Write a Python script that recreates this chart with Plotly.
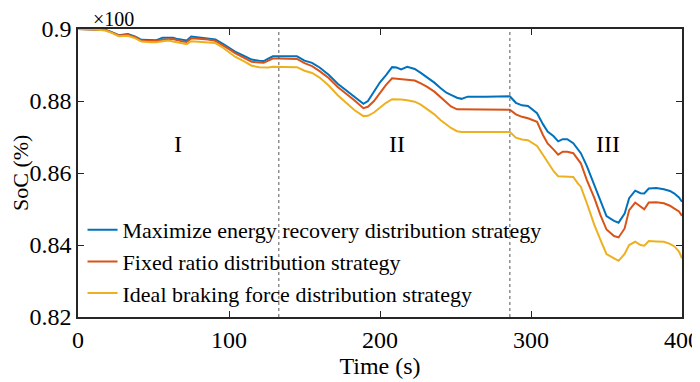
import plotly.graph_objects as go

time_s = [0, 10, 18, 22, 27, 33, 38, 42, 48, 52, 56, 60, 63, 66, 69, 72, 75, 80, 86, 91,
          96, 100, 104, 110, 115, 120, 123, 126, 129, 133, 140, 145, 150, 155, 160, 166,
          172, 178, 183, 189, 192, 196, 200, 204, 208, 211, 214, 218, 223, 227, 231, 236,
          240, 244, 247, 251, 254, 258, 270, 286, 290, 294, 298, 304, 308, 311, 315, 318,
          321, 324, 328, 331, 333, 337, 342, 346, 350, 355, 358, 362, 365, 369, 372.5,
          375, 378, 383, 388, 392, 395, 398, 400]

soc_max_recovery = [0.9, 0.8999, 0.8998, 0.8992, 0.8983, 0.8986, 0.8979, 0.897, 0.8969, 0.8969,
                    0.8976, 0.8976, 0.8976, 0.8972, 0.8969, 0.8968, 0.8979, 0.8977, 0.8975, 0.8971,
                    0.8959, 0.8948, 0.8937, 0.8925, 0.8915, 0.8912, 0.8911, 0.8918, 0.8924, 0.8924,
                    0.8925, 0.8924, 0.8912, 0.8906, 0.8893, 0.8873, 0.8848, 0.8829, 0.8811, 0.8792,
                    0.8800, 0.8828, 0.8852, 0.8872, 0.8894, 0.8893, 0.8888, 0.8895, 0.8889, 0.8878,
                    0.8866, 0.8851, 0.8836, 0.8823, 0.8817, 0.8809, 0.8806, 0.8812, 0.8812, 0.8813,
                    0.8795, 0.8788, 0.8786, 0.8766, 0.8735, 0.8715, 0.8702, 0.8688, 0.8694, 0.8694,
                    0.8683, 0.8665, 0.8655, 0.8619, 0.8567, 0.8525, 0.8480, 0.8467, 0.8462, 0.8487,
                    0.8530, 0.8551, 0.8544, 0.8543, 0.8557, 0.8558, 0.8555, 0.8550, 0.8543, 0.8532,
                    0.8520]

soc_fixed_ratio = [0.9, 0.8999, 0.8997, 0.8991, 0.8982, 0.8984, 0.8977, 0.8968, 0.8967, 0.8967,
                   0.8970, 0.8972, 0.8972, 0.8969, 0.8965, 0.8964, 0.8974, 0.8973, 0.8971, 0.8967,
                   0.8955, 0.8944, 0.8933, 0.8920, 0.8909, 0.8907, 0.8906, 0.8912, 0.8918, 0.8918,
                   0.8918, 0.8917, 0.8905, 0.8897, 0.8883, 0.8864, 0.8839, 0.8820, 0.8802, 0.8780,
                   0.8784, 0.8800, 0.8824, 0.8845, 0.8863, 0.8862, 0.8860, 0.8859, 0.8857, 0.8849,
                   0.8840, 0.8826, 0.8812, 0.8796, 0.8785, 0.8777, 0.8777, 0.8777, 0.8777, 0.8776,
                   0.8763, 0.8756, 0.8752, 0.8742, 0.8705, 0.8682, 0.8665, 0.8651, 0.8659, 0.8659,
                   0.8655, 0.8637, 0.8627, 0.8580, 0.8530, 0.8483, 0.8443, 0.8425, 0.8421, 0.8446,
                   0.8497, 0.8518, 0.8506, 0.8499, 0.8518, 0.8519, 0.8516, 0.8509, 0.8501, 0.8493,
                   0.8481]

soc_ideal = [0.9, 0.8999, 0.8996, 0.8990, 0.8980, 0.8981, 0.8974, 0.8965, 0.8963, 0.8963,
             0.8966, 0.8968, 0.8965, 0.8962, 0.8960, 0.8958, 0.8966, 0.8965, 0.8962, 0.8961,
             0.8948, 0.8936, 0.8923, 0.8910, 0.8898, 0.8894, 0.8893, 0.8893, 0.8895, 0.8895,
             0.8895, 0.8894, 0.8884, 0.8878, 0.8865, 0.8843, 0.8816, 0.8794, 0.8775, 0.8758,
             0.8759, 0.8768, 0.8782, 0.8795, 0.8805, 0.8805, 0.8804, 0.8802, 0.8798, 0.8790,
             0.8779, 0.8763, 0.8747, 0.8733, 0.8725, 0.8716, 0.8714, 0.8714, 0.8714, 0.8714,
             0.8698, 0.8693, 0.8691, 0.8675, 0.8650, 0.8631, 0.8605, 0.8591, 0.8590, 0.8591,
             0.8589, 0.8571, 0.8562, 0.8516, 0.8455, 0.8414, 0.8375, 0.8363, 0.8356, 0.8375,
             0.8400, 0.8409, 0.8400, 0.8398, 0.8411, 0.8410, 0.8409, 0.8403, 0.8396, 0.8382,
             0.8363]

series_names = ["Maximize energy recovery distribution strategy",
                "Fixed ratio distribution strategy",
                "Ideal braking force distribution strategy"]
series_colors = ["#0072BD", "#D95319", "#EDB120"]

stage_boundaries = [133, 286]
stage_labels = ["I", "II", "III"]
stage_label_x = [66, 211, 351]
stage_label_y = 0.868

x_ticks = [0, 100, 200, 300, 400]
y_ticks = [0.82, 0.84, 0.86, 0.88, 0.9]
y_tick_text = ["0.82", "0.84", "0.86", "0.88", "0.9"]

FONT = "Liberation Serif"
AX = "#262626"

fig = go.Figure()
for name, color, ys in zip(series_names, series_colors,
                           [soc_max_recovery, soc_fixed_ratio, soc_ideal]):
    fig.add_trace(go.Scatter(x=time_s, y=ys, mode="lines", name=name,
                             line=dict(color=color, width=2)))

for xb in stage_boundaries:
    fig.add_shape(type="line", xref="x", yref="paper", x0=xb, x1=xb, y0=0, y1=1,
                  line=dict(color="#555555", width=1, dash="dot"))

for lab, lx in zip(stage_labels, stage_label_x):
    fig.add_annotation(x=lx, y=stage_label_y, text=lab, showarrow=False,
                       font=dict(family=FONT, size=24, color="black"))

fig.add_annotation(xref="paper", yref="paper", x=0.023, y=1.0, yanchor="middle",
                   xanchor="left", text="×100", showarrow=False, yshift=10,
                   borderpad=0, font=dict(family=FONT, size=20, color="black"))

# y-axis title
fig.add_annotation(xref="paper", yref="paper", x=-0.096, y=0.5, xanchor="center",
                   yanchor="middle", text="SoC (%)", textangle=-90, showarrow=False,
                   borderpad=0, font=dict(family=FONT, size=22, color="black"))

axis_common = dict(showline=True, linecolor=AX, linewidth=1.5, mirror="ticks",
                   ticks="inside", ticklen=6, tickcolor=AX, tickwidth=1.2,
                   showgrid=False, zeroline=False, automargin=False,
                   tickfont=dict(family=FONT, size=24, color="black"))

fig.update_layout(
    width=692, height=374,
    margin=dict(l=70, r=18, t=21, b=65),
    plot_bgcolor="white", paper_bgcolor="white",
    font=dict(family=FONT, size=24, color="black"),
    xaxis=dict(range=[0, 400], tickvals=x_ticks,
               title=dict(text="Time (s)", font=dict(family=FONT, size=24), standoff=2),
               **axis_common),
    yaxis=dict(range=[0.82, 0.9], tickvals=y_ticks, ticktext=y_tick_text,
               **axis_common),
    legend=dict(x=0.0075, y=0.375, xanchor="left", yanchor="top",
                bgcolor="rgba(0,0,0,0)", borderwidth=0,
                font=dict(family=FONT, size=22, color="black"),
                tracegroupgap=0, itemwidth=30),
    showlegend=True,
)

fig.write_html("out.html")
